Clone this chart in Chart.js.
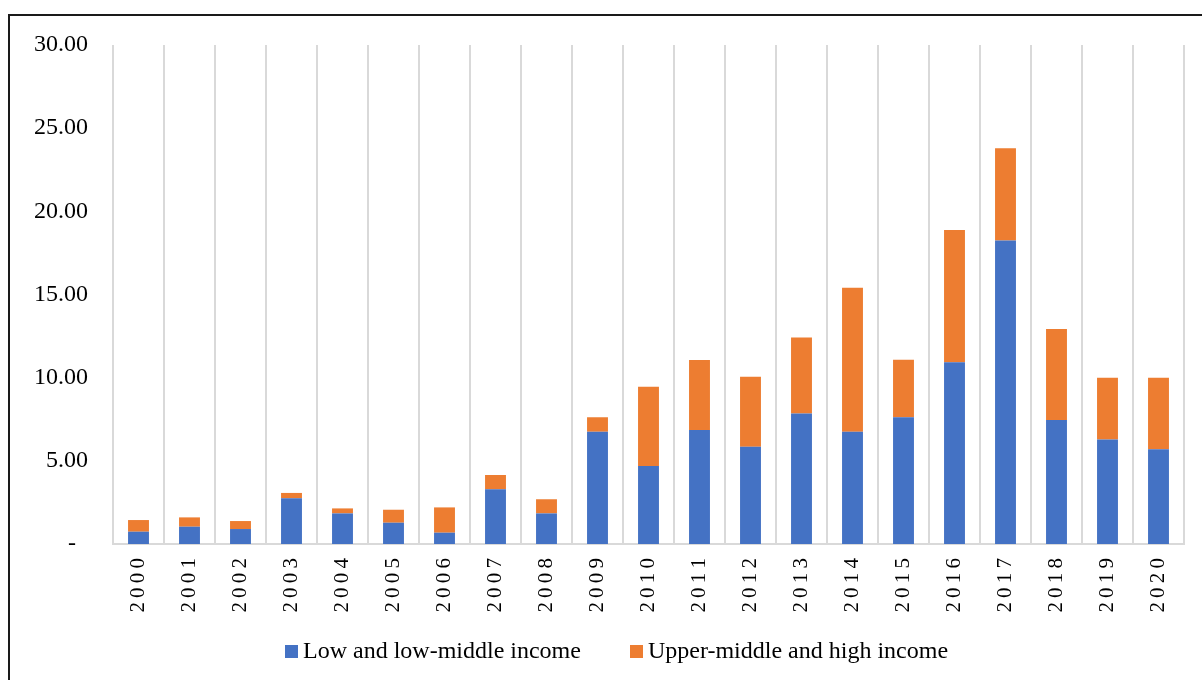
<!DOCTYPE html>
<html>
<head>
<meta charset="utf-8">
<script src="https://cdn.jsdelivr.net/npm/chart.js@4.4.0/dist/chart.umd.min.js"></script>
<style>
  html, body { margin: 0; padding: 0; background: #fff; overflow: hidden; }
  #frame { position: absolute; left: 8px; top: 14px; width: 1300px; height: 800px; border: 2px solid #1a1a1a; }
  #wrap { position: absolute; left: 0; top: 0; width: 1202px; height: 680px; }
  #legend { position: absolute; left: 285px; top: 638px; display: flex; gap: 49px;
    font-family: 'Liberation Serif', 'Times New Roman', serif; font-size: 24px; line-height: 24px; color: #000; white-space: nowrap; }
  #legend .item { display: flex; align-items: flex-start; }
  #legend .box { width: 13px; height: 13px; margin-top: 7px; margin-right: 5px; }
</style>
</head>
<body>
<div id="frame"></div>
<div id="wrap"><canvas id="incomeChart" width="1202" height="680"></canvas></div>
<div id="legend"></div>
<script>
// categories + series values
const years = ['2000', '2001', '2002', '2003', '2004', '2005', '2006', '2007', '2008', '2009', '2010',
  '2011', '2012', '2013', '2014', '2015', '2016', '2017', '2018', '2019', '2020'];
const lowIncome = [0.74, 1.04, 0.90, 2.75, 1.84, 1.28, 0.68, 3.29, 1.84, 6.75, 4.69,
  6.86, 5.85, 7.85, 6.75, 7.62, 10.93, 18.24, 7.46, 6.29, 5.69];
const highIncome = [0.70, 0.56, 0.48, 0.32, 0.30, 0.78, 1.52, 0.86, 0.85, 0.87, 4.77,
  4.20, 4.21, 4.56, 8.66, 3.46, 7.95, 5.55, 5.47, 3.71, 4.31];
const seriesNames = ['Low and low-middle income', 'Upper-middle and high income'];
const yTicks = [0, 5, 10, 15, 20, 25, 30];

const serif = "'Liberation Serif', 'Times New Roman', serif";

const ctx = document.getElementById('incomeChart').getContext('2d');
const chart = new Chart(ctx, {
  type: 'bar',
  data: {
    labels: years,
    datasets: [{
      label: seriesNames[0],
      data: lowIncome,
      backgroundColor: '#4472C4',
      barPercentage: 0.41,
      categoryPercentage: 1
    }, {
      label: seriesNames[1],
      data: highIncome,
      backgroundColor: '#ED7D31',
      barPercentage: 0.41,
      categoryPercentage: 1
    }]
  },
  options: {
    responsive: false,
    animation: false,
    layout: { padding: { top: 45, right: 18, left: 0, bottom: 56 } },
    plugins: {
      tooltip: { enabled: false },
      legend: { display: false } // html legend below, chart.js one can't tighten the box-text gap
    },
    scales: {
      x: {
        stacked: true,
        grid: { display: true, color: '#d9d9d9', lineWidth: 2, drawTicks: false },
        border: { display: true, color: '#d9d9d9', width: 2 },
        ticks: {
          color: '#000',
          font: { family: serif, size: 21 },
          minRotation: 90,
          maxRotation: 90,
          padding: 14,
          // spaced digits like the original
          callback: function(v, i) { return years[i].split('').join('\u2009'); }
        },
        afterFit: function(scale) { scale.height = 80; }
      },
      y: {
        stacked: true,
        min: 0,
        max: 30,
        afterBuildTicks: function(scale) { scale.ticks = yTicks.map(v => ({ value: v })); },
        grid: { display: false, drawTicks: false },
        border: { display: false },
        ticks: {
          color: '#000',
          font: { family: serif, size: 24 },
          padding: 25,
          callback: v => v === 0 ? '-  ' : v.toFixed(2)
        },
        afterFit: function(scale) { scale.width = 113; }
      }
    }
  }
});

// legend from the datasets
const legendEl = document.getElementById('legend');
chart.data.datasets.forEach(function(ds) {
  const item = document.createElement('div');
  item.className = 'item';
  const box = document.createElement('span');
  box.className = 'box';
  box.style.background = ds.backgroundColor;
  const txt = document.createElement('span');
  txt.textContent = ds.label;
  item.appendChild(box);
  item.appendChild(txt);
  legendEl.appendChild(item);
});
</script>
</body>
</html>
